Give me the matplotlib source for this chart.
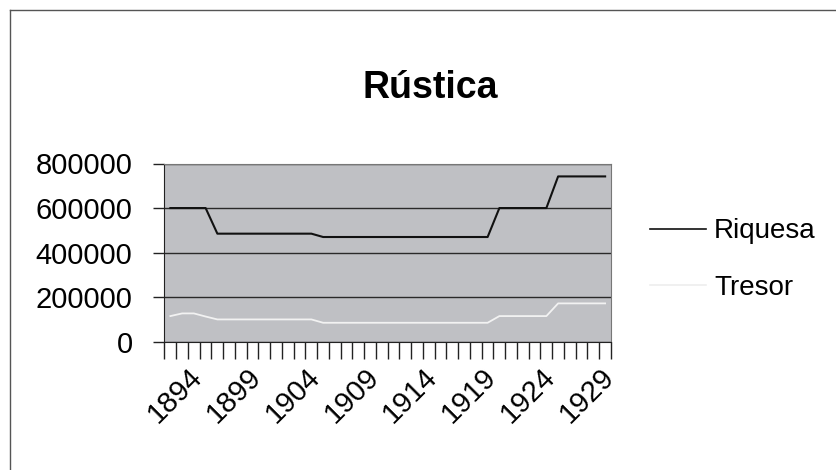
import matplotlib.pyplot as plt
from matplotlib.lines import Line2D
import matplotlib.transforms as mtransforms
import numpy as np

# anys (1894-1931), etiquetes cada 5
anys = list(range(1894, 1932))
etiquetes = [str(a) if (a - 1894) % 5 == 0 else '' for a in anys]

riquesa = [600000, 600000, 600000, 600000,
           485000, 485000, 485000, 485000, 485000, 485000, 485000, 485000, 485000,
           470000, 470000, 470000, 470000, 470000, 470000, 470000, 470000,
           470000, 470000, 470000, 470000, 470000, 470000, 470000,
           600000, 600000, 600000, 600000, 600000,
           742000, 742000, 742000, 742000, 742000]
tresor = [115000, 127000, 127000, 113000,
          100000, 100000, 100000, 100000, 100000, 100000, 100000, 100000, 100000,
          85000, 85000, 85000, 85000, 85000, 85000, 85000, 85000,
          85000, 85000, 85000, 85000, 85000, 85000, 85000,
          115000, 115000, 115000, 115000, 115000,
          172000, 172000, 172000, 172000, 172000]

plt.rcParams['font.family'] = ['Liberation Sans', 'DejaVu Sans']

fig = plt.figure(figsize=(8.37, 4.70), dpi=100)
ax = fig.add_axes([164.5 / 837, 1 - 341.7 / 470, (611 - 164.5) / 837, (341.7 - 163.5) / 470])

x = np.arange(len(anys))
ax.plot(x, riquesa, color='#111111', lw=1.5)
ax.plot(x, tresor, color='#f2f2f2', lw=1.3)

ax.set_facecolor('#bfc0c4')
ax.set_xlim(-0.5, len(anys) - 0.5)
ax.set_ylim(0, 800000)
ax.set_yticks([0, 200000, 400000, 600000, 800000])
ax.set_yticklabels(['0', '200000', '400000', '600000', '800000'], fontsize=21)
ax.yaxis.grid(True, color='#2a2a2a', lw=1)
ax.set_axisbelow(True)

# marques entre categories, etiquetes al centre
ax.set_xticks(np.arange(len(anys) + 1) - 0.5)
ax.set_xticklabels([])
ax.set_xticks(x, minor=True)
ax.set_xticklabels(etiquetes, minor=True, rotation=45, ha='center', fontsize=21)
ax.tick_params(axis='x', which='major', length=12, width=1, color='#222222')
ax.tick_params(axis='x', which='minor', length=0, pad=15)
ax.tick_params(axis='y', length=8, width=1, color='#222222', pad=15)
desplac = mtransforms.ScaledTranslation(5 / 100, 0, fig.dpi_scale_trans)
for lab in ax.get_xticklabels(minor=True):
    lab.set_transform(lab.get_transform() + desplac)

ax.spines['left'].set_color('#222222')
ax.spines['bottom'].set_color('#222222')
ax.spines['top'].set_color('#777777')
ax.spines['right'].set_color('#777777')

fig.text(430 / 837, 1 - 98 / 470, 'Rústica', ha='center', va='baseline',
         fontsize=27, fontweight='bold')

# llegenda
handles = [Line2D([], [], color='#111111', lw=1.2),
           Line2D([], [], color='#eeeeee', lw=1.2)]
fig.legend(handles, ['Riquesa', 'Tresor'], loc='center left',
           bbox_to_anchor=(650 / 837, 1 - 259.5 / 470), frameon=False,
           borderpad=0, borderaxespad=0,
           fontsize=20, handlelength=2.0, handletextpad=0.3, labelspacing=1.1)

# marc exterior
fig.add_artist(Line2D([9.5 / 837, 1.0], [1 - 9.5 / 470, 1 - 9.5 / 470],
                      transform=fig.transFigure, color='#555555', lw=1))
fig.add_artist(Line2D([9.5 / 837, 9.5 / 837], [0, 1 - 9.5 / 470],
                      transform=fig.transFigure, color='#555555', lw=1))

fig.savefig('out.png', dpi=100)
